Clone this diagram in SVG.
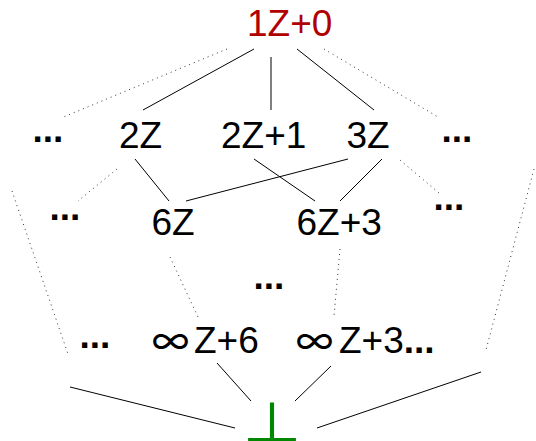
<svg xmlns="http://www.w3.org/2000/svg" width="536" height="441" viewBox="0 0 536 441">
<style>
.t{font-family:"Liberation Sans",Arial,sans-serif;font-size:37px;fill:#000}
.d{font-family:"Liberation Sans",Arial,sans-serif;font-size:37px;font-weight:bold;fill:#000}
.inf{font-family:"Noto Sans CJK JP","DejaVu Sans",sans-serif;font-size:37px;font-weight:500}
.bot{font-family:"Noto Sans CJK JP","DejaVu Sans",sans-serif;font-weight:400;font-size:55px;fill:#008800}
.s{stroke:#000;stroke-width:1;fill:none}
.o{stroke:#333;stroke-width:1;stroke-dasharray:1 4;fill:none}
</style>
<rect width="536" height="441" fill="#fff"/>
<g id="edges">
<line class="s" x1="254" y1="49" x2="143" y2="110"/>
<line class="s" x1="271" y1="57" x2="271" y2="110"/>
<line class="s" x1="297" y1="49" x2="374" y2="110"/>
<line class="s" x1="135" y1="159" x2="169" y2="201"/>
<line class="s" x1="348" y1="159" x2="186" y2="201"/>
<line class="s" x1="254" y1="159" x2="315" y2="201"/>
<line class="s" x1="382" y1="159" x2="340" y2="201"/>
<line class="s" x1="217" y1="363" x2="251" y2="401"/>
<line class="s" x1="331" y1="366" x2="295" y2="401"/>
<line class="s" x1="70" y1="387" x2="235" y2="428"/>
<line class="s" x1="481" y1="372" x2="317" y2="428"/>
<line class="o" x1="227" y1="49" x2="61" y2="118"/>
<line class="o" x1="324" y1="49" x2="438" y2="117"/>
<line class="o" x1="117" y1="169" x2="78" y2="201"/>
<line class="o" x1="400" y1="160" x2="439" y2="193"/>
<line class="o" x1="12" y1="191" x2="68" y2="354"/>
<line class="o" x1="534" y1="169" x2="486" y2="350"/>
<line class="o" x1="170" y1="257" x2="198" y2="317"/>
<line class="o" x1="340" y1="249" x2="334" y2="316"/>
</g>
<g id="n-top"><text class="t" x="247" y="36" style="fill:#b00000">1Z+0</text></g>
<g id="n-2z"><text class="t" x="119" y="148">2Z</text></g>
<g id="n-2z1"><text class="t" x="221" y="148">2Z+1</text></g>
<g id="n-3z"><text class="t" x="346.5" y="148">3Z</text></g>
<g id="n-6z"><text class="t" x="151.5" y="235">6Z</text></g>
<g id="n-6z3"><text class="t" x="296.5" y="235">6Z+3</text></g>
<g id="n-inf6"><text class="t" y="353"><tspan class="inf" x="152" dy="3">∞</tspan><tspan x="194" dy="-3">Z+6</tspan></text></g>
<g id="n-inf3"><text class="t" y="353"><tspan class="inf" x="296" dy="3">∞</tspan><tspan x="339" dy="-3">Z+3</tspan><tspan class="d">...</tspan></text></g>
<g id="n-d1"><text class="d" x="32.4" y="142">...</text></g>
<g id="n-d2"><text class="d" x="441.4" y="142">...</text></g>
<g id="n-d3"><text class="d" x="49.4" y="220">...</text></g>
<g id="n-d4"><text class="d" x="433.4" y="210">...</text></g>
<g id="n-d5"><text class="d" x="253.4" y="289">...</text></g>
<g id="n-d6"><text class="d" x="79.4" y="348">...</text></g>
<g id="n-bot"><text class="bot" text-anchor="middle" transform="translate(272,443) scale(1.1,1)">⊥</text></g>
</svg>
